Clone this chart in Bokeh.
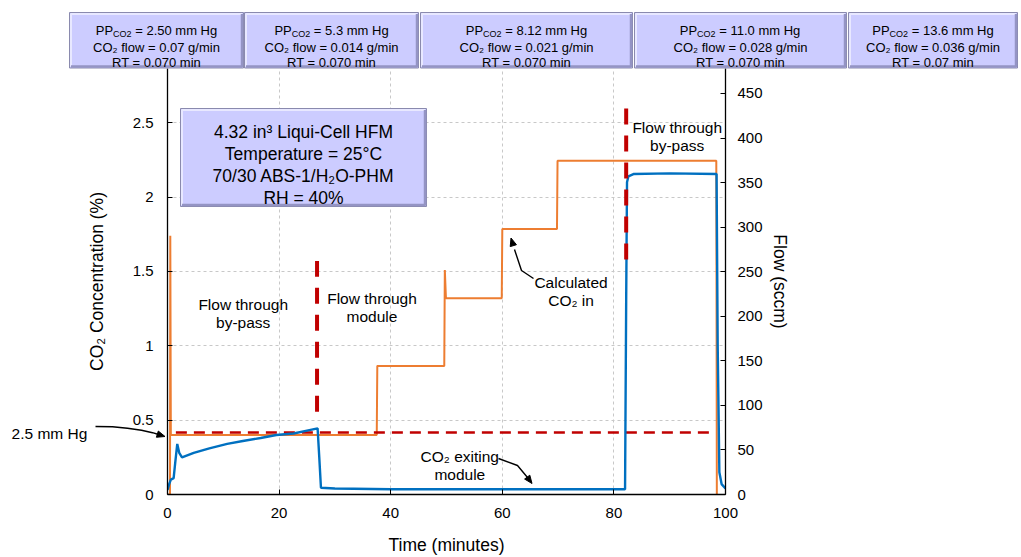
import math
from bokeh.plotting import figure
from bokeh.models import Range1d, LinearAxis, FixedTicker
from bokeh.layouts import column
from bokeh.embed import file_html
from bokeh.resources import INLINE
from bokeh.core.properties import value

# ---------------- data ----------------
time_in = [0.0, 0.45, 0.5, 0.6, 37.5, 37.6, 49.6, 49.7, 49.9, 59.9, 60.0, 69.8, 69.9, 98.35, 98.45]
co2_in = [0.0, 0.0, 1.74, 0.40, 0.40, 0.865, 0.865, 1.51, 1.32, 1.32, 1.785, 1.785, 2.245, 2.245, 0.0]

time_out = [0.0, 0.3, 0.6, 1.1, 1.4, 1.75, 2.1, 2.6, 4.7, 7.5, 10.7, 13.5, 16.7, 19.5, 22.6, 25.0,
            26.9, 27.2, 27.5, 30.0, 40.0, 50.0, 60.0, 70.0, 82.0, 82.2, 82.35, 82.6, 83.5, 90.0,
            98.4, 98.6, 98.9, 99.3, 100.0]
co2_out = [0.03, 0.07, 0.10, 0.11, 0.22, 0.34, 0.28, 0.25, 0.28, 0.31, 0.34, 0.36, 0.38, 0.40, 0.41, 0.43,
           0.445, 0.25, 0.045, 0.04, 0.035, 0.035, 0.035, 0.035, 0.035, 1.3, 2.1, 2.14, 2.155, 2.16,
           2.155, 1.0, 0.15, 0.07, 0.04]

pp_line_level = 0.417
pp_line_span = [1.5, 97.5]
switch_times = [26.8, 82.2]
switch_spans = [[0.556, 1.57], [1.58, 2.65]]

x_ticks = [0, 20, 40, 60, 80, 100]
y_ticks = [0, 0.5, 1, 1.5, 2, 2.5]
y_tick_labels = ["0", "0.5", "1", "1.5", "2", "2.5"]
flow_ticks = [0, 50, 100, 150, 200, 250, 300, 350, 400, 450]

pp_values = ["2.50", "5.3", "8.12", "11.0", "13.6"]
flow_values = ["0.07", "0.014", "0.021", "0.028", "0.036"]
rt_values = ["0.070", "0.070", "0.070", "0.070", "0.07"]

# ---------------- layout ----------------
FONT = "Liberation Sans"
W, H = 1019, 557
FL, FR, FT, FB = 167, 725, 68, 494   # frame edges in page pixels

AW = {' ': 278, '.': 278, '/': 278, '=': 584, '-': 333, '%': 889, '(': 333, ')': 333}
for d in "0123456789":
    AW[d] = 556
AW.update({'C': 722, 'O': 778, 'P': 667, 'H': 722, 'R': 722, 'T': 611,
           'g': 556, 'm': 833, 'i': 222, 'n': 556, 'f': 278, 'l': 222, 'o': 556, 'w': 722})

def tw(s, fs):
    return sum(AW.get(c, 556) for c in s) * fs / 1000.0

# ---------------- main figure ----------------
p = figure(width=W, height=H, x_range=Range1d(0, 100), y_range=Range1d(0, 2.865),
           output_backend="svg", toolbar_location=None,
           min_border_left=FL, min_border_right=W - FR, min_border_top=FT, min_border_bottom=H - FB)
p.outline_line_color = None
p.extra_y_ranges = {"flow": Range1d(0, 478)}

def style_axis(ax):
    ax.axis_line_color = "black"
    ax.axis_line_width = 1.3
    ax.major_tick_in = 5
    ax.major_tick_out = 0
    ax.major_tick_line_color = "black"
    ax.minor_tick_line_color = None
    ax.major_label_text_font = FONT
    ax.major_label_text_font_size = "15px"
    ax.major_label_text_color = "black"
    ax.axis_label_text_font = FONT
    ax.axis_label_text_font_size = "17.5px"
    ax.axis_label_text_font_style = "normal"
    ax.axis_label_text_color = "black"

xa = p.xaxis[0]
style_axis(xa)
xa.ticker = FixedTicker(ticks=x_ticks)
xa.axis_label = "Time (minutes)"
xa.major_label_standoff = 13
xa.axis_label_standoff = 14

ya = p.yaxis[0]
style_axis(ya)
ya.ticker = FixedTicker(ticks=y_ticks)
ya.major_label_overrides = {t: s for t, s in zip(y_ticks, y_tick_labels)}
ya.axis_label = "CO₂ Concentration (%)"
ya.major_label_standoff = 14
ya.axis_label_standoff = 23

ra = LinearAxis(y_range_name="flow", axis_label="Flow (sccm)")
style_axis(ra)
ra.ticker = FixedTicker(ticks=flow_ticks)
ra.major_label_standoff = 12
ra.axis_label_standoff = 4
p.add_layout(ra, "right")

p.xgrid.ticker = FixedTicker(ticks=x_ticks[1:-1])
p.ygrid.ticker = FixedTicker(ticks=y_ticks[1:])
for g in (p.xgrid[0], p.ygrid[0]):
    g.grid_line_color = "#C8C8C8"
    g.grid_line_dash = "3 3"
    g.grid_line_width = 1

p.line(time_in, co2_in, line_color="#ED7D31", line_width=2)
p.line(pp_line_span, [pp_line_level, pp_line_level], line_color="#C00000", line_width=2.6,
       line_dash="11 7")
p.line(time_out, co2_out, line_color="#0070C0", line_width=2.4)
for t, (y0, y1) in zip(switch_times, switch_spans):
    p.line([t, t], [y0, y1], line_color="#C00000", line_width=4, line_dash="16 11")

# ---------------- transparent overlay for boxes, notes and arrows (page pixels) ----------------
ov = figure(width=W, height=H, x_range=Range1d(0, W), y_range=Range1d(H, 0),
            output_backend="svg", toolbar_location=None, min_border=0,
            x_axis_location=None, y_axis_location=None,
            styles={"position": "absolute", "top": "0px", "left": "0px"})
ov.grid.visible = False
ov.outline_line_color = None
ov.background_fill_color = None
ov.border_fill_color = None
for fig in (p, ov):
    if "frame_align" in fig.properties():
        fig.frame_align = False

def bevel_box(fig, l, r, t, b):
    fig.quad(left=[l], right=[r], top=[t], bottom=[b], fill_color="#CCCCFF",
             line_color="#8A8AAE", line_width=1)
    fig.line([l + 1.5, l + 1.5, r - 1.5], [b - 1.5, t + 1.5, t + 1.5],
             line_color="#E8E8FF", line_width=2)
    fig.line([l + 1.5, r - 1.5, r - 1.5], [b - 1.6, b - 1.6, t + 1.5],
             line_color="#9494C4", line_width=2.5)

box_edges = [(69, 243), (244, 418), (420, 632), (634, 846), (848, 1017)]
lx, ly, lt, ls = [], [], [], []
cx_, cy_, ct_ = [], [], []
for i, (l, r) in enumerate(box_edges):
    bevel_box(ov, l, r, 12, 67.5)
    cx = (l + r) / 2.0
    fs, ss = 13, 9
    rest = "= %s mm Hg" % pp_values[i]
    total = tw("PP", fs) + tw("CO2", ss) + tw(" ", fs) + tw(rest, fs)
    x = cx - total / 2.0
    lx += [x, x + tw("PP", fs), x + tw("PP", fs) + tw("CO2", ss) + tw(" ", fs)]
    ly += [30, 33.5, 30]
    lt += ["PP", "CO2", rest]
    ls += ["13px", "9px", "13px"]
    cx_ += [cx, cx]
    cy_ += [46.5, 61.5]
    ct_ += ["CO₂ flow = %s g/min" % flow_values[i], "RT = %s min" % rt_values[i]]

ov.text(x=lx, y=ly, text=lt, text_font_size=ls, text_font=value(FONT), text_align="left",
        text_baseline="alphabetic", text_color="black")
ov.text(x=cx_, y=cy_, text=ct_, text_font_size=value("13px"), text_font=value(FONT),
        text_align="center", text_baseline="alphabetic", text_color="black")

# in-plot info box
bevel_box(ov, 180, 426, 108, 206)

notes = [
    ("4.32 in³ Liqui-Cell HFM", 303, 131.5, "17.5px"),
    ("Temperature = 25°C", 303, 153.3, "17.5px"),
    ("70/30 ABS-1/H₂O-PHM", 303, 175.5, "17.5px"),
    ("RH = 40%", 303, 197, "17.5px"),
    ("Flow through", 242.7, 304, "15.5px"),
    ("by-pass", 242.7, 322, "15.5px"),
    ("Flow through", 371.5, 298, "15.5px"),
    ("module", 371.5, 316, "15.5px"),
    ("Calculated", 570.5, 281.5, "15.5px"),
    ("CO₂ in", 570.5, 300, "15.5px"),
    ("CO₂ exiting", 459.3, 456, "15.5px"),
    ("module", 459.3, 473.5, "15.5px"),
    ("Flow through", 676.7, 126.7, "15.5px"),
    ("by-pass", 676.7, 144.5, "15.5px"),
    ("2.5 mm Hg", 49, 432.7, "15.5px"),
]
ov.text(x=[n[1] for n in notes], y=[n[2] for n in notes], text=[n[0] for n in notes],
        text_font_size=[n[3] for n in notes], text_font=value(FONT), text_align="center",
        text_baseline="alphabetic", text_color="black")

def head(tip, frm, L=8.0, Wd=6.5):
    dx, dy = tip[0] - frm[0], tip[1] - frm[1]
    n = math.hypot(dx, dy)
    ux, uy = dx / n, dy / n
    bx, by = tip[0] - ux * L, tip[1] - uy * L
    px, py = -uy * Wd / 2, ux * Wd / 2
    return [tip[0], bx + px, bx - px], [tip[1], by + py, by - py]

arrow_paths = [
    [(95, 426), (112, 426.3), (127, 427.7), (141, 429.8), (152, 432.2), (158, 434)],
    [(533, 278), (521, 270), (514, 249)],
    [(498, 458), (517, 465), (527, 477)],
]
arrow_tips = [(164.5, 436), (510.5, 237.5), (531.5, 483)]
for path, tip in zip(arrow_paths, arrow_tips):
    ov.line([a for a, _ in path], [b for _, b in path], line_color="black", line_width=1.4)
    hx_, hy_ = head(tip, path[-1])
    ov.patch(hx_, hy_, fill_color="black", line_color="black", line_width=1)

layout = column(p, ov, styles={"position": "relative"})
open("out.html", "w").write(file_html(layout, INLINE))
